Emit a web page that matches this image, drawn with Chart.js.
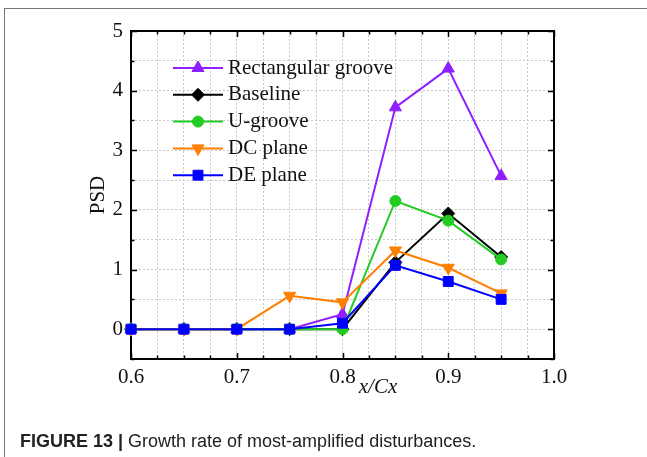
<!DOCTYPE html>
<html lang="en">
<head>
    <meta charset="UTF-8">
    <title>Growth rate of most-amplified disturbances</title>
    <script src="https://cdn.jsdelivr.net/npm/chart.js"></script>
    <style>
        body { margin: 0; background: #fff; }
        .page { position: relative; width: 647px; height: 457px; overflow: hidden; }
        .frame { position: absolute; left: 4px; top: 8px; right: -2px; bottom: -2px;
                 border-top: 1px solid #777; border-left: 1px solid #777; }
        canvas { position: absolute; left: 0; top: 0; }
        .xtitle { position: absolute; left: 378px; top: 374px; transform: translateX(-50%);
                  font: italic 21px "Liberation Serif", "Times New Roman", serif; line-height: 24px; color: #111; }
        .caption { position: absolute; left: 20px; top: 431px; font: 18px "Liberation Sans", Arial, sans-serif;
                   line-height: 20px; color: #222; white-space: nowrap; }
        .caption b { font-weight: bold; }
    </style>
</head>
<body>
<div class="page">
    <div class="frame"></div>
    <canvas id="psdChart" width="647" height="457"></canvas>
    <div class="xtitle">x/Cx</div>
    <div class="caption"><b>FIGURE 13 |</b> Growth rate of most-amplified disturbances.</div>
</div>
<script>
    // x/Cx positions
    const xPos = [0.6, 0.65, 0.7, 0.75, 0.8, 0.85, 0.9, 0.95];
    // PSD values per configuration
    const rectGroove = [0, 0, 0, 0, 0.25, 3.72, 4.37, 2.57];
    const baseline   = [0, 0, 0, 0, 0, 1.12, 1.94, 1.21];
    const uGroove    = [0, 0, 0, 0, 0, 2.15, 1.82, 1.17];
    const dcPlane    = [0, 0, 0, 0.56, 0.45, 1.32, 1.03, 0.6];
    const dePlane    = [0, 0, 0, 0, 0.1, 1.07, 0.8, 0.5];
    const seriesNames = ['Rectangular groove', 'Baseline', 'U-groove', 'DC plane', 'DE plane'];

    const serif = '"Liberation Serif", "Times New Roman", serif';
    const pts = arr => xPos.map((x, i) => ({ x: x, y: arr[i] }));

    function makeSet(name, arr, color, style, radius, rotation, order) {
        return {
            label: name,
            data: pts(arr),
            borderColor: color,
            backgroundColor: color,
            borderWidth: 2,
            pointStyle: style,
            pointRadius: radius,
            pointRotation: rotation,
            pointBorderWidth: 1,
            pointBackgroundColor: color,
            pointBorderColor: color,
            tension: 0,
            clip: false,
            order: order
        };
    }

    const datasets = [
        makeSet(seriesNames[0], rectGroove, '#8F1FFF', 'triangle', 7, 0, 5),
        makeSet(seriesNames[1], baseline, '#000000', 'rectRot', 6.5, 0, 4),
        makeSet(seriesNames[2], uGroove, '#22CC22', 'circle', 5.5, 0, 3),
        makeSet(seriesNames[3], dcPlane, '#FF8000', 'triangle', 7, 180, 2),
        makeSet(seriesNames[4], dePlane, '#0000FF', 'rect', 7, 0, 1)
    ];

    const near = (v, step) => Math.abs(v / step - Math.round(v / step)) < 1e-6;

    // axis box with inward ticks on all four sides
    const framePlugin = {
        id: 'frame',
        beforeDatasetsDraw(chart) {
            const { ctx, chartArea: a, scales: { x, y } } = chart;
            ctx.save();
            ctx.strokeStyle = '#000';
            ctx.lineWidth = 1.5;
            ctx.beginPath();
            x.ticks.forEach(t => {
                const px = Math.round(x.getPixelForValue(t.value)) + 0.5;
                const len = near(t.value, 0.1) ? 6 : 3.5;
                ctx.moveTo(px, a.bottom); ctx.lineTo(px, a.bottom - len);
                ctx.moveTo(px, a.top); ctx.lineTo(px, a.top + len);
            });
            y.ticks.forEach(t => {
                const py = Math.round(y.getPixelForValue(t.value)) + 0.5;
                const len = near(t.value, 1) ? 6 : 3.5;
                ctx.moveTo(a.left, py); ctx.lineTo(a.left + len, py);
                ctx.moveTo(a.right, py); ctx.lineTo(a.right - len, py);
            });
            ctx.stroke();
            ctx.lineWidth = 2;
            ctx.strokeRect(a.left, a.top, a.right - a.left, a.bottom - a.top);
            ctx.restore();
        }
    };

    // legend drawn inside the plot, line + marker samples
    const insideLegend = {
        id: 'insideLegend',
        afterDatasetsDraw(chart) {
            const { ctx, chartArea: a } = chart;
            const x0 = a.left + 42, x1 = a.left + 92, rowH = 26.8;
            ctx.save();
            chart.data.datasets.forEach((ds, i) => {
                const yy = a.top + 37 + i * rowH;
                ctx.strokeStyle = ds.borderColor;
                ctx.lineWidth = 2;
                ctx.beginPath();
                ctx.moveTo(x0, yy); ctx.lineTo(x1, yy);
                ctx.stroke();
                ctx.fillStyle = ds.pointBackgroundColor;
                ctx.lineWidth = 1;
                Chart.helpers.drawPoint(ctx, {
                    pointStyle: ds.pointStyle, radius: ds.pointRadius,
                    rotation: ds.pointRotation, borderWidth: 1
                }, (x0 + x1) / 2, yy);
                ctx.fillStyle = '#111';
                ctx.font = '21px ' + serif;
                ctx.textBaseline = 'middle';
                ctx.fillText(ds.label, x1 + 5, yy);
            });
            ctx.restore();
        }
    };

    const gridStyle = { color: '#c8c8c8', lineWidth: 1, drawTicks: false };

    new Chart(document.getElementById('psdChart').getContext('2d'), {
        type: 'line',
        data: { datasets: datasets },
        options: {
            responsive: false,
            animation: false,
            devicePixelRatio: 1,
            layout: { padding: { left: 0, top: 31, right: 93, bottom: 58 } },
            plugins: { legend: { display: false }, tooltip: { enabled: false } },
            scales: {
                x: {
                    type: 'linear',
                    min: 0.6,
                    max: 1.0,
                    grid: gridStyle,
                    border: { display: false, dash: [2, 2] },
                    ticks: {
                        stepSize: 0.025,
                        autoSkip: false,
                        maxRotation: 0,
                        padding: 6,
                        color: '#111',
                        font: { family: serif, size: 21 },
                        callback: v => near(v, 0.1) ? v.toFixed(1) : ''
                    },
                    afterFit: s => { s.height = 40; }
                },
                y: {
                    min: -0.5,
                    max: 5,
                    grid: gridStyle,
                    border: { display: false, dash: [2, 2] },
                    ticks: {
                        stepSize: 0.5,
                        autoSkip: false,
                        padding: 8,
                        color: '#111',
                        font: { family: serif, size: 21 },
                        callback: v => near(v, 1) ? String(Math.round(v)) : ''
                    },
                    title: {
                        display: true,
                        text: 'PSD',
                        color: '#111',
                        font: { family: serif, size: 21 },
                        padding: { top: 86, bottom: 0 }
                    },
                    afterFit: s => { s.width = 131; }
                }
            }
        },
        plugins: [framePlugin, insideLegend]
    });
</script>
</body>
</html>
